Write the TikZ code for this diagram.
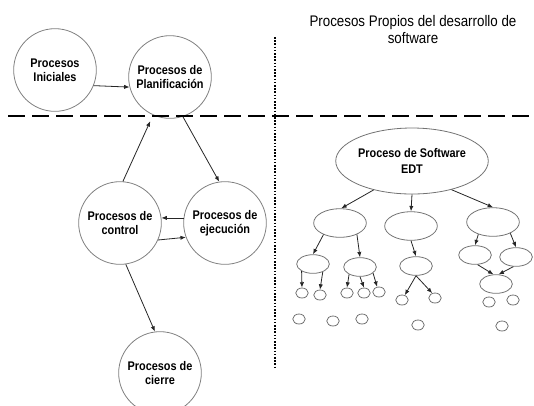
\documentclass[tikz,border=0pt]{standalone}
\usepackage{fontspec}
\newfontfamily\narrowfont[FakeStretch=0.87]{Liberation Sans}
\usetikzlibrary{positioning,arrows.meta,shapes.geometric}

\begin{document}
\begin{tikzpicture}[
    x=0.75pt,
    y=-0.75pt,
    font=\narrowfont,
    conn/.style={draw=black!85,line width=0.6pt,-{Latex[length=4pt,width=3.2pt]}},
    phase/.style={circle,draw=black!50,line width=0.6pt,minimum size=62pt,inner sep=0pt,
        align=center,font=\narrowfont\bfseries\fontsize{9.4}{10.5}\selectfont},
    edtnode/.style={ellipse,draw=black!55,line width=0.6pt,minimum width=91.5pt,
        minimum height=49.5pt,inner sep=0pt,align=center,
        font=\narrowfont\bfseries\fontsize{9.4}{11.5}\selectfont},
    task/.style={ellipse,draw=black!55,line width=0.6pt,minimum width=39.5pt,minimum height=21.5pt},
    subtask/.style={ellipse,draw=black!55,line width=0.6pt,minimum width=24.5pt,minimum height=14pt},
    leaf/.style={ellipse,draw=black!55,line width=0.6pt,minimum width=9.4pt,minimum height=7.5pt,inner sep=0pt},
    sepline/.style={line width=2.2pt,dash pattern=on 12.75pt off 5.25pt},
    dotline/.style={line width=1.6pt,dash pattern=on 1.2pt off 1.2pt}
]

\clip (0,0) rectangle (534,405);

\node[align=center,font=\narrowfont\fontsize{11.5}{12.75}\selectfont] (title) at (413,29.5)
    {Procesos Propios del desarrollo de\\software};

\node[phase] (ini) at (55,70) {Procesos\\Iniciales};
\node[phase] (plan) at (170,77) {Procesos de\\Planificación};
\node[phase] (ctrl) at (120,223) {Procesos de\\control};
\node[phase] (ejec) at (225,223) {Procesos de\\ejecución};
\node[phase] (cierre) at (160,373) {Procesos de\\cierre};

\draw[sepline] (8,116) -- (534,116);
\draw[dotline] (275,37) -- (275,369);

\draw[conn] (ini.-22) -- (plan.194);
\draw[conn,shorten >=5pt] (ctrl.86) -- (plan.246);
\draw[conn] (plan.-72) -- (ejec.98);
\draw[conn] (ejec.173) -- (ctrl.7);
\draw[conn] (ctrl.-24) -- (ejec.200);
\draw[conn] (ctrl.-82) -- (cierre.97);

\node[edtnode] (edt) at (412,161) {Proceso de Software\\EDT};
\node[task] (wa) at (340,223) {};
\node[task] (wb) at (411,226) {};
\node[task] (wc) at (493,222) {};
\node[subtask] (wa1) at (313,264) {};
\node[subtask] (wa2) at (360,267) {};
\node[subtask] (wb1) at (416,266) {};
\node[subtask] (wc1) at (475,255) {};
\node[subtask] (wc2) at (516,257) {};
\node[subtask] (wc3) at (496,284) {};
\foreach \nm/\px/\py in {wa1a/302/293,wa1b/320/295,wa2a/347/293,wa2b/364/293,wa2c/379/292,
    wb1a/402/300,wb1b/435/298,wc3a/489/302,wc3b/513/300,
    lz1/299/319,lz2/333/321,lz3/362/319,lz4/418/325,lz5/502/326}
    \node[leaf] (\nm) at (\px,\py) {};

\draw[conn] (edt.217) -- (wa.85);
\draw[conn] (edt.south) -- (wb.north);
\draw[conn] (edt.-36) -- (wc.north);
\draw[conn] (wa.215) -- (wa1.north);
\draw[conn] (wa.-34) -- (wa2.north);
\draw[conn] (wb.south) -- (wb1.north);
\draw[conn] (wc.220) -- (wc1.north);
\draw[conn] (wc.-33) -- (wc2.north);
\draw[conn] (wc1.285) -- (wc3.105);
\draw[conn] (wc2.255) -- (wc3.75);
\draw[conn] (wa1.212) -- (wa1a.north);
\draw[conn] (wa1.-39) -- (wa1b.north);
\draw[conn] (wa2.214) -- (wa2a.north);
\draw[conn] (wa2.south) -- (wa2b.north);
\draw[conn] (wa2.-25) -- (wa2c.110);
\draw[conn] (wb1.south) -- (wb1a.60);
\draw[conn] (wb1.south) -- (wb1b.120);

\end{tikzpicture}
\end{document}
